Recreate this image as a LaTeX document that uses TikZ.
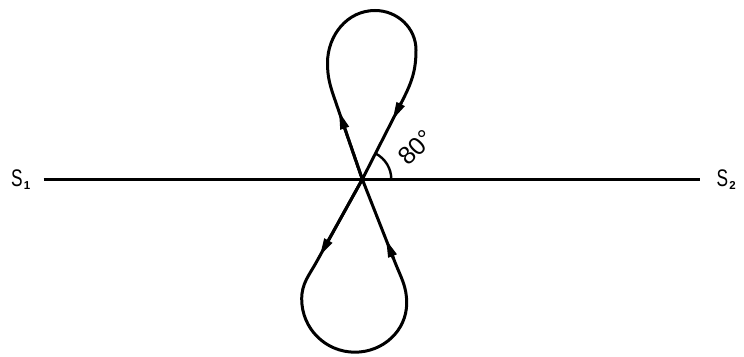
\documentclass[tikz,border=0pt]{standalone}
\usepackage{fontspec}
\setmainfont{Liberation Sans}
\usetikzlibrary{arrows.meta,calc}
\newcommand{\bigS}{\scalebox{0.72}[1]{\fontsize{24}{24}\selectfont S}}
\newcommand{\subn}[1]{\raisebox{-3pt}{\makebox[0pt][l]{\hspace{1.2pt}\fontsize{11.5}{11.5}\selectfont\bfseries #1}}}
\begin{document}
\begin{tikzpicture}[x=1pt,y=1pt,
  curve/.style={line width=3pt, line join=round, line cap=round},
  tipmark/.style={line width=3pt,-{Triangle[length=18pt,width=8.5pt]}},
  lbl/.style={inner sep=0pt, anchor=base west}]
\useasboundingbox (0,0) rectangle (744,356);
% crossing point and construction points
\coordinate (C) at (362.3,176.7);
\coordinate (A1) at ($(C)+(109:83.9)$);
\coordinate (A2) at ($(C)+(63:89)$);
\coordinate (B1) at ($(C)+(241:94.6)$);
\coordinate (B2) at ($(C)+(-68.5:88.9)$);
\coordinate (L1) at (327.5,293);
\coordinate (T) at (375,345.5);
\coordinate (R1) at (416,306);
\coordinate (L2) at (301.7,57);
\coordinate (Bot) at (355,3.8);
\coordinate (R2) at (406.7,53);
\coordinate (hl) at (43.5,176.7);
\coordinate (hr) at (700,176.7);
% labels
\node[lbl] (s1) at (11,169.5) {\bigS\subn{1}};
\node[lbl] (s2) at (716.5,169.5) {\bigS\subn{2}};
% horizontal line
\draw[curve, line width=2.8pt, line cap=butt] (hl) -- (hr);
% figure eight
\draw[curve] (C) -- (A1) to[out=109,in=-90] (L1) to[out=90,in=180] (T)
  to[out=0,in=90] (R1) to[out=-90,in=63] (A2) -- (C) -- (B1)
  to[out=241,in=90] (L2) to[out=-90,in=180] (Bot) to[out=0,in=-90] (R2)
  to[out=90,in=-68.5] (B2) -- cycle;
% arrowheads
\draw[tipmark] (C) -- ($(C)+(109:72)$);
\draw[tipmark] ($(C)+(63:86)$) -- ($(C)+(63:66.5)$);
\draw[tipmark] (C) -- ($(C)+(241:88)$);
\draw[tipmark] ($(C)+(-68.5:85)$) -- ($(C)+(-68.5:64.5)$);
% angle
\draw[line width=2.4pt] ($(C)+(29,0)$) arc[start angle=0,end angle=63,radius=29];
\node[rotate=45, inner sep=0pt, font=\fontsize{25}{25}\selectfont] (ang) at (416,208.5) {80°};
\end{tikzpicture}
\end{document}
